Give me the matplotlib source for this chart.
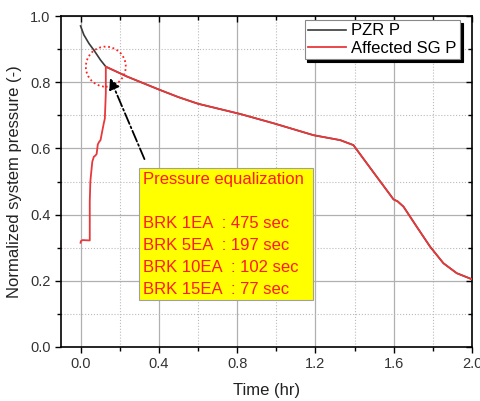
import matplotlib
matplotlib.use('Agg')
import matplotlib.pyplot as plt
from matplotlib.patches import Ellipse, Rectangle
from matplotlib.ticker import MultipleLocator

plt.rcParams['font.family'] = ['Liberation Sans', 'DejaVu Sans']

# PZR pressure (normalized) vs time (hr)
pzr_t = [0.0, 0.017, 0.043, 0.068, 0.102, 0.129, 0.238, 0.4, 0.5, 0.6, 0.816, 0.986,
         1.19, 1.327, 1.394, 1.5, 1.599, 1.62, 1.65, 1.718, 1.786, 1.854, 1.922, 1.998]
pzr_p = [0.97, 0.943, 0.917, 0.897, 0.867, 0.847, 0.817, 0.778, 0.755, 0.735, 0.704, 0.676,
         0.64, 0.625, 0.61, 0.525, 0.446, 0.44, 0.424, 0.363, 0.303, 0.253, 0.223, 0.205]

# affected SG pressure (normalized)
sg_t = [0.0, 0.002, 0.01, 0.047, 0.047, 0.05, 0.054, 0.06, 0.068, 0.075, 0.082, 0.088,
        0.095, 0.102, 0.11, 0.119, 0.124, 0.129, 0.129, 0.238, 0.4, 0.5, 0.6, 0.816, 0.986,
        1.19, 1.327, 1.394, 1.5, 1.599, 1.62, 1.65, 1.718, 1.786, 1.854, 1.922, 1.998]
sg_p = [0.315, 0.32, 0.323, 0.322, 0.44, 0.5, 0.525, 0.56, 0.575, 0.578, 0.583, 0.612,
        0.62, 0.625, 0.65, 0.677, 0.69, 0.766, 0.847, 0.817, 0.778, 0.755, 0.735, 0.704, 0.676,
        0.64, 0.625, 0.61, 0.525, 0.446, 0.44, 0.424, 0.363, 0.303, 0.253, 0.223, 0.205]

box_lines = ['BRK 1EA  : 475 sec', 'BRK 5EA  : 197 sec',
             'BRK 10EA  : 102 sec', 'BRK 15EA  : 77 sec']

fig = plt.figure(figsize=(4.81, 4.01), dpi=100)
ax = fig.add_axes([0.1268, 0.1347, 0.8545, 0.8253])
ax.set_xlim(-0.1, 2.0)
ax.set_ylim(0.0, 1.0)
ax.xaxis.set_major_locator(MultipleLocator(0.4))
ax.xaxis.set_minor_locator(MultipleLocator(0.2))
ax.yaxis.set_major_locator(MultipleLocator(0.2))
ax.yaxis.set_minor_locator(MultipleLocator(0.1))
ax.grid(True, which='major', color='#b0b0b0', lw=0.9)
ax.grid(True, which='minor', color='#bbbbbb', lw=0.8, ls=':')

ax.tick_params(which='both', direction='out', length=4, width=1.0,
               labelsize=10.5, labelcolor='#333333', top=False, right=False)
ax.tick_params(which='minor', length=3)
for s in ax.spines.values():
    s.set_linewidth(1.2)
ax.set_xlabel('Time (hr)', fontsize=12, color='#222222', labelpad=8)
ax.set_ylabel('Normalized system pressure (-)', fontsize=12, color='#222222', labelpad=6)

# data and notes on a transparent overlay that also carries the inward top/right ticks
over = fig.add_axes(ax.get_position(), sharex=ax, sharey=ax)
over.patch.set_visible(False)
for s in over.spines.values():
    s.set_visible(False)
over.tick_params(which='both', direction='in', length=4, width=1.0,
                 bottom=False, left=False, top=True, right=True,
                 labelbottom=False, labelleft=False)
over.tick_params(which='minor', length=3)

over.plot(pzr_t, pzr_p, color='#3a3a3a', lw=1.2, label='PZR P', zorder=3)
over.plot(sg_t, sg_p, color='#e8383a', lw=1.3, label='Affected SG P', zorder=4)

leg = over.legend(loc='upper right', bbox_to_anchor=(0.971, 0.988),
                  fontsize=12, frameon=True, fancybox=False,
                  shadow={'color': 'black', 'alpha': 1.0},
                  handlelength=2.3, borderpad=0.2, labelspacing=0.15,
                  handletextpad=0.3, borderaxespad=0.0)
leg.get_frame().set_edgecolor('#888888')
leg.get_frame().set_linewidth(0.8)

# equalization marker
over.add_patch(Ellipse((0.129, 0.847), 0.204, 0.121, fill=False, ec='#ff2020',
                       ls=(0, (1, 1.5)), lw=1.3, zorder=5))
over.annotate('', xy=(0.145, 0.82), xytext=(0.332, 0.56),
              arrowprops=dict(arrowstyle='-|>', color='black', lw=1.3,
                              linestyle='-.', mutation_scale=16), zorder=6)

over.add_patch(Rectangle((0.301, 0.142), 0.888, 0.399, fc='#ffff00', ec='#a0a0a0',
                         lw=0.8, zorder=6))
over.text(0.32, 0.505, 'Pressure equalization', color='#ff1a1a', fontsize=12,
          va='center', ha='left', zorder=7)
for i, line in enumerate(box_lines):
    over.text(0.32, 0.372 - i * 0.066, line, color='#ff1a1a', fontsize=12,
              va='center', ha='left', zorder=7)

fig.savefig('out.png', dpi=100)
